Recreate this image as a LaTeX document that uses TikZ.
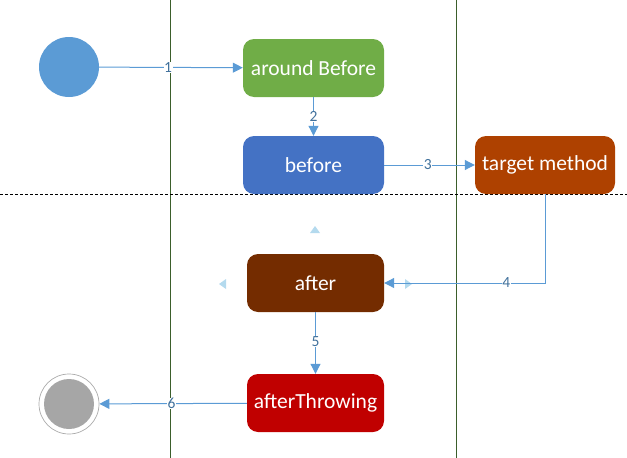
\documentclass[tikz,border=0pt]{standalone}
\usepackage{fontspec}
\setmainfont{Carlito}
\usetikzlibrary{arrows.meta, positioning}

\definecolor{flowblue}{HTML}{5B9BD5}
\definecolor{labelblue}{HTML}{41719C}
\definecolor{lanegreen}{HTML}{3B5E2B}
\definecolor{handleblue}{HTML}{B4DAEE}

\begin{document}
\begin{tikzpicture}[x=1pt,y=-1pt,>={Triangle[length=10pt,width=10pt]},
    stepbox/.style={rounded corners=11pt,minimum width=141pt,minimum height=58pt,
        text=white,font=\fontsize{21.5}{25}\selectfont,inner sep=0pt},
    flow/.style={->,draw=flowblue,line width=1pt},
    num/.style={fill=white,text=labelblue,font=\fontsize{15.5}{17}\selectfont,inner sep=0.5pt}]
    \useasboundingbox (0,0) rectangle (627,458);

    % lanes
    \draw[lanegreen,line width=0.9pt] (170,0) -- (170,458);
    \draw[lanegreen,line width=0.9pt] (456,0) -- (456,458);
    \draw[dash pattern=on 3pt off 2pt,line width=0.9pt] (0,194) -- (627,194);

    \node[circle,fill=flowblue,minimum size=60pt,inner sep=0pt] (Start) at (69,67) {};
    \node[stepbox,fill={rgb,255:red,112;green,173;blue,71}] (AroundBefore) at (313.5,68) {around Before};
    \node[stepbox,fill={rgb,255:red,68;green,114;blue,196}] (Before) at (313.5,165) {before};
    \node[stepbox,minimum width=140pt,fill={rgb,255:red,174;green,65;blue,0}] (Target) at (545,165) {target method};
    \node[stepbox,minimum width=137pt,fill={rgb,255:red,116;green,44;blue,0}] (After) at (315.5,283) {after};
    \node[stepbox,minimum width=137pt,fill={rgb,255:red,192;green,0;blue,0}] (AfterThrowing) at (315.5,403) {afterThrowing};
    \node[circle,draw={rgb,255:red,170;green,170;blue,170},line width=0.7pt,minimum size=60pt,inner sep=0pt] (End) at (69,404) {};
    \node[circle,fill={rgb,255:red,166;green,166;blue,166},minimum size=50pt,inner sep=0pt] (EndDot) at (End) {};

    % selection handles
    \fill[handleblue] (310,233) -- (320,233) -- (315,226) -- cycle;
    \fill[handleblue] (226,279) -- (226,289) -- (219,284) -- cycle;
    \fill[handleblue] (405,279) -- (405,289) -- (412,284) -- cycle;

    \path (Start) edge [flow] node[num,pos=0.48] {1} (AroundBefore);
    \path (AroundBefore) edge [flow] node[num,pos=0.5] {2} (Before);
    \path (Before) edge [flow] node[num,pos=0.48] {3} (Target);
    \draw[flow] (Target.south) |- node[num,pos=0.62] {4} (After.east);
    \path (After) edge [flow] node[num,pos=0.48] {5} (AfterThrowing);
    \path (AfterThrowing) edge [flow] node[num,pos=0.51] {6} (End);
\end{tikzpicture}
\end{document}
